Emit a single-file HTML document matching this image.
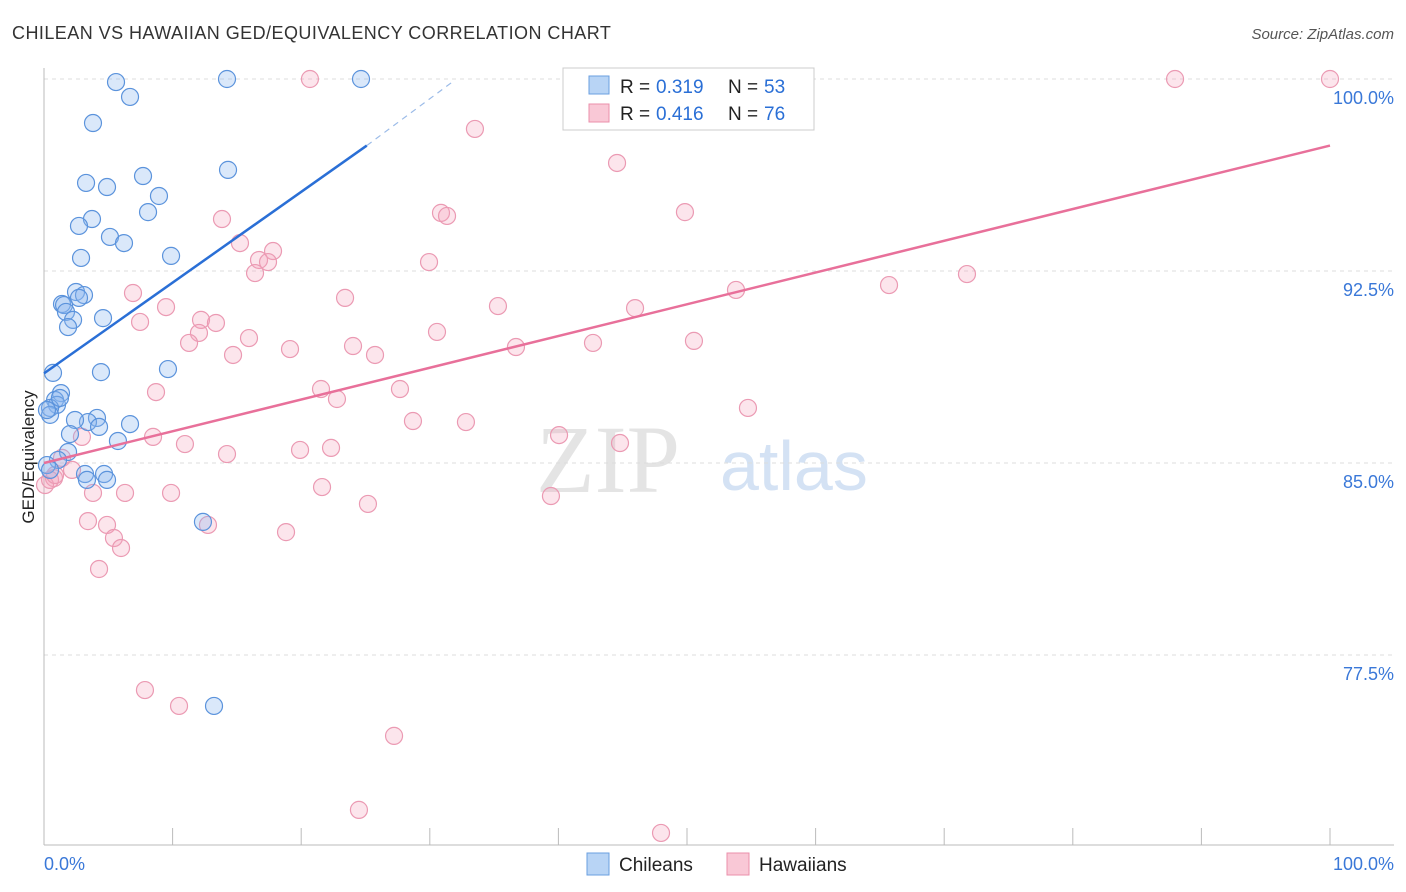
<!DOCTYPE html>
<html><head><meta charset="utf-8"><style>
body{margin:0;background:#fff;font-family:"Liberation Sans",sans-serif}
svg{display:block}
</style></head><body>
<svg id="c" width="1406" height="892">
<text x="12" y="39" font-size="18" fill="#333" letter-spacing="0.45">CHILEAN VS HAWAIIAN GED/EQUIVALENCY CORRELATION CHART</text>
<text x="1394" y="39" font-size="15" fill="#555" font-style="italic" text-anchor="end">Source: ZipAtlas.com</text>
<text x="680" y="492" font-size="96" fill="#e4e4e4" font-family="Liberation Serif" text-anchor="end">ZIP</text>
<text x="720" y="490" font-size="70" fill="#d4e2f4">atlas</text>
<text transform="translate(34,457) rotate(-90)" font-size="17" fill="#222" text-anchor="middle">GED/Equivalency</text>
<g id="grid"></g><g id="pts"></g><g id="lines"></g>
<g>
<rect x="563" y="68" width="251" height="62" fill="#fff" stroke="#ccc"/>
<rect x="589" y="76" width="20" height="18" fill="#b8d4f5" stroke="#6a9fe0"/>
<rect x="589" y="104" width="20" height="18" fill="#f9c8d6" stroke="#eb8fab"/>
<text y="93" font-size="19" fill="#222"><tspan x="620">R =</tspan><tspan x="656" fill="#2a6fd6">0.319</tspan><tspan x="728">N =</tspan><tspan x="764" fill="#2a6fd6">53</tspan></text>
<text y="120" font-size="19" fill="#222"><tspan x="620">R =</tspan><tspan x="656" fill="#2a6fd6">0.416</tspan><tspan x="728">N =</tspan><tspan x="764" fill="#2a6fd6">76</tspan></text>
</g>
<g>
<rect x="587" y="853" width="22" height="22" fill="#b8d4f5" stroke="#6a9fe0"/>
<text x="619" y="871" font-size="19" fill="#222">Chileans</text>
<rect x="727" y="853" width="22" height="22" fill="#f9c8d6" stroke="#eb8fab"/>
<text x="759" y="871" font-size="19" fill="#222">Hawaiians</text>
</g>
<text x="44" y="870" font-size="18" fill="#3a78d8">0.0%</text>
<text x="1394" y="870" font-size="18" fill="#3a78d8" text-anchor="end">100.0%</text>
</svg>
<script>
const yTicks=[100,92.5,85,77.5];
const yTickLabels=["100.0%","92.5%","85.0%","77.5%"];
const bluePx=[[116,82],[227,79],[361,79],[130,97],[93,123],[228,170],[143,176],[86,183],[107,187],[159,196],[148,212],[92,219],[79,226],[110,237],[124,243],[171,256],[81,258],[76,292],[84,295],[62,304],[64,305],[79,298],[66,312],[103,318],[73,320],[68,327],[53,373],[101,372],[168,369],[61,393],[55,400],[57,405],[50,408],[50,415],[97,418],[88,422],[130,424],[75,420],[99,427],[70,434],[118,441],[68,452],[58,460],[85,474],[104,474],[107,480],[87,480],[203,522],[214,706],[47,465],[50,470],[47,410],[60,398]];
const pinkPx=[[310,79],[1175,79],[1330,79],[475,129],[617,163],[685,212],[222,219],[441,213],[447,216],[240,243],[273,251],[259,260],[268,262],[255,273],[429,262],[967,274],[889,285],[133,293],[345,298],[498,306],[166,307],[736,290],[635,308],[140,322],[201,320],[216,323],[199,333],[189,343],[437,332],[249,338],[290,349],[353,346],[233,355],[375,355],[516,347],[593,343],[694,341],[156,392],[321,389],[337,399],[400,389],[748,408],[413,421],[466,422],[559,435],[620,443],[153,437],[82,437],[185,444],[300,450],[331,448],[227,454],[62,458],[72,470],[54,478],[45,485],[93,493],[125,493],[171,493],[322,487],[368,504],[551,496],[88,521],[107,525],[208,525],[286,532],[114,538],[121,548],[99,569],[145,690],[179,706],[394,736],[359,810],[661,833],[50,480],[55,475]];
const toData=p=>[+((p[0]-44)/12.86).toFixed(2),+(100-(p[1]-79)/25.6).toFixed(2)];
const chileanX=bluePx.map(p=>toData(p)[0]), chileanY=bluePx.map(p=>toData(p)[1]);
const hawaiianX=pinkPx.map(p=>toData(p)[0]), hawaiianY=pinkPx.map(p=>toData(p)[1]);
const chileanTrend=[[0,88.5],[25.1,97.4],[31.8,99.9]];
const hawaiianTrend=[[0,85.0],[100,97.4]];
const X=v=>44+v*12.86, Y=v=>79+(100-v)*25.6;
const NS="http://www.w3.org/2000/svg";
function mk(t,a,parent){const e=document.createElementNS(NS,t);for(const k in a)e.setAttribute(k,a[k]);document.getElementById(parent).appendChild(e);return e;}
yTicks.forEach((t,i)=>{
 const l=mk('line',{x1:44,x2:1394,y1:Y(t),y2:Y(t),stroke:'#ddd','stroke-dasharray':'4,4'},'grid');
 
 
 const tx=mk('text',{x:1394,y:Y(t)+25,'font-size':18,fill:'#3a78d8','text-anchor':'end'},'grid');
 tx.textContent=yTickLabels[i];
 
 
});
let ax=mk('line',{x1:44,x2:44,y1:68,y2:845,stroke:'#bbb'},'grid');


ax=mk('line',{x1:44,x2:1394,y1:845,y2:845,stroke:'#bbb'},'grid');


for(let i=0;i<=10;i++){const tk=mk('line',{x1:X(i*10),x2:X(i*10),y1:828,y2:845,stroke:'#bbb'},'grid');
 
 }
hawaiianX.forEach((x,i)=>{const c=mk('circle',{cx:X(x),cy:Y(hawaiianY[i]),r:8.5,fill:'rgba(244,160,186,0.28)',stroke:'#eb9ab3','stroke-width':1.2},'pts');
 
 });
chileanX.forEach((x,i)=>{const c=mk('circle',{cx:X(x),cy:Y(chileanY[i]),r:8.5,fill:'rgba(140,185,240,0.32)',stroke:'#5b93dc','stroke-width':1.2},'pts');
 
 });
let ln=mk('line',{x1:X(chileanTrend[0][0]),y1:Y(chileanTrend[0][1]),x2:X(chileanTrend[1][0]),y2:Y(chileanTrend[1][1]),stroke:'#2a6fd6','stroke-width':2.5},'lines');


ln=mk('line',{x1:X(chileanTrend[1][0]),y1:Y(chileanTrend[1][1]),x2:X(chileanTrend[2][0]),y2:Y(chileanTrend[2][1]),stroke:'#9bbbe8','stroke-width':1.2,'stroke-dasharray':'6,5'},'lines');


ln=mk('line',{x1:X(hawaiianTrend[0][0]),y1:Y(hawaiianTrend[0][1]),x2:X(hawaiianTrend[1][0]),y2:Y(hawaiianTrend[1][1]),stroke:'#e8709a','stroke-width':2.5},'lines');


</script>
</body></html>
